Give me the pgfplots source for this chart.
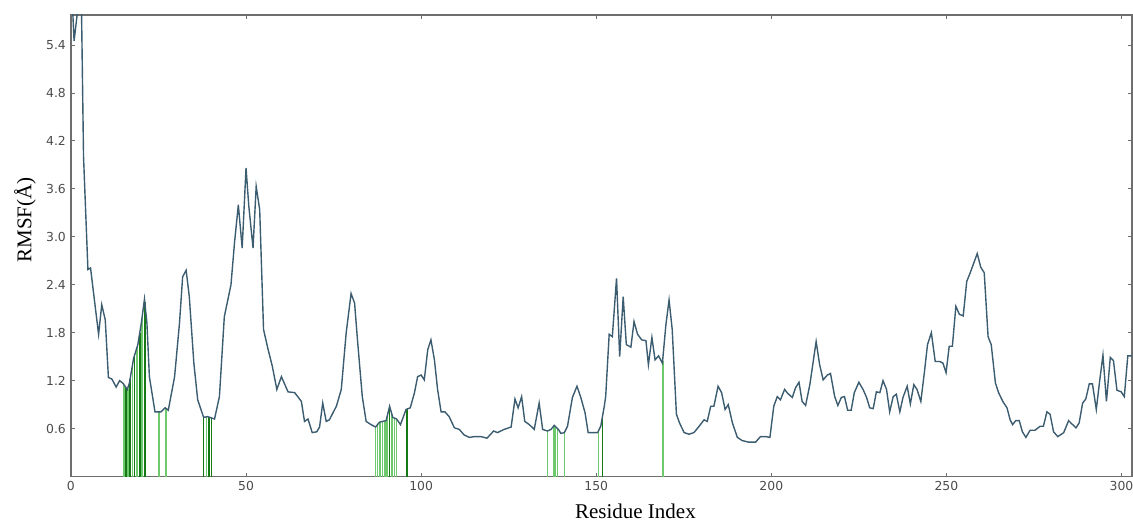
\documentclass[border=0pt]{standalone}
\usepackage{pgfplots}
\pgfplotsset{compat=1.18}
\usepackage{fontspec}
\setmainfont{Liberation Serif}
\newfontfamily\ticksf{DejaVu Sans}
\definecolor{rmsfline}{RGB}{60,92,112}
\definecolor{lgreen}{RGB}{110,200,110}
\definecolor{dgreen}{RGB}{20,120,20}
\definecolor{frame}{RGB}{110,110,110}
\begin{document}
\begin{tikzpicture}
\begin{axis}[
  scale only axis, width=531pt, height=231pt,
  xmin=0, xmax=303, ymin=0, ymax=5.775,
  xtick={0,50,100,150,200,250,300},
  ytick={0.6,1.2,1.8,2.4,3.0,3.6,4.2,4.8,5.4},
  yticklabel style={/pgf/number format/fixed, /pgf/number format/fixed zerofill, /pgf/number format/precision=1},
  /pgf/number format/assume math mode=true,
  tick align=inside, major tick length=2pt,
  tick style={frame, line width=0.4pt},
  axis line style={frame, line width=0.6pt},
  ticklabel style={font=\ticksf\fontsize{6.2}{7}\selectfont, text=black!70},
  xticklabel style={yshift=1pt},
  yticklabel style={xshift=1pt},
  xlabel={Residue Index}, ylabel={RMSF(Å)},
  label style={font=\fontsize{10.5}{12}\selectfont},
  xlabel style={at={(axis description cs:0.532,0)}, anchor=north, yshift=-10pt},
  ylabel style={at={(axis description cs:0,0.556)}, anchor=south, yshift=14pt},
  clip=true,
]
\addplot[lgreen, line width=0.75pt, ycomb, no marks] coordinates {
(15.2,1.14) (16.3,1.10) (17.6,1.40) (18.9,1.62) (20.3,1.98)
(25.2,0.81) (27.1,0.85) (38.7,0.75)
(87.0,0.62) (87.6,0.65) (88.3,0.68) (89.0,0.69) (89.7,0.70) (90.3,0.75) (91.7,0.78) (92.4,0.73) (93.0,0.72)
(136.1,0.57) (137.8,0.62) (138.2,0.63) (138.9,0.60) (141.0,0.56)
(150.6,0.56) (169.1,1.45)
};
\addplot[dgreen, line width=0.75pt, ycomb, no marks] coordinates {
(15.7,1.11) (16.9,1.22) (18.2,1.52) (19.7,1.80) (21.1,2.18)
(37.9,0.74) (39.4,0.74) (40.1,0.73)
(90.9,0.86) (96.0,0.84) (151.8,0.75)
};
\addplot[rmsfline, line width=0.7pt, no marks] coordinates {
(0,6.3) (0.9,5.45) (2.1,5.9) (3.0,5.9) (3.6,4.0) (4.85,2.59) (5.6,2.61) (6.7,2.21)
(7.9,1.78) (8.8,2.15) (9.8,1.96) (10.7,1.24) (11.7,1.22) (12.9,1.12) (13.9,1.2)
(14.8,1.17) (16.1,1.09) (16.7,1.17) (17.9,1.48) (19.1,1.65) (20.1,1.92) (21.0,2.22)
(21.7,1.92) (22.4,1.25) (24.0,0.81) (25.7,0.81) (26.9,0.86) (27.8,0.83) (29.6,1.25)
(31.0,1.92) (31.9,2.5) (32.9,2.58) (33.8,2.25) (35.1,1.42) (36.2,0.96) (37.9,0.74)
(39.0,0.75) (41.0,0.72) (42.4,1.0) (43.8,2.0) (45.7,2.4) (46.7,2.92) (47.8,3.4)
(48.9,2.86) (50.0,3.86) (50.8,3.38) (52.0,2.86) (52.9,3.63) (53.9,3.34) (55.0,1.84)
(56.3,1.59) (57.5,1.38) (58.8,1.09) (60.1,1.25) (62.0,1.06) (63.9,1.05) (65.8,0.94)
(66.7,0.69) (67.7,0.72) (68.9,0.55) (70.2,0.56) (71.0,0.62) (71.9,0.92) (72.9,0.69)
(73.8,0.71) (75.8,0.88) (77.2,1.09) (78.6,1.8) (80.0,2.29) (81.0,2.17) (81.9,1.67)
(83.2,1.0) (84.3,0.69) (85.7,0.65) (87.0,0.62) (88.1,0.68) (89.0,0.69) (90.0,0.70)
(91.0,0.88) (91.9,0.74) (93.0,0.72) (94.1,0.65) (95.7,0.84) (96.9,0.86) (98.1,1.05)
(99.0,1.25) (100.0,1.27) (100.9,1.21) (101.9,1.59) (102.8,1.71) (103.8,1.46) (104.7,1.09)
(105.7,0.81) (106.8,0.81) (108.0,0.75) (109.5,0.61) (110.9,0.59) (112.3,0.52) (113.8,0.49)
(115.2,0.50) (117.1,0.50) (118.8,0.48) (120.7,0.57) (121.8,0.55) (123.7,0.59) (125.7,0.62)
(126.8,0.97) (127.7,0.86) (128.7,1.00) (129.6,0.69) (130.9,0.65) (132.3,0.59) (133.7,0.92)
(134.7,0.59) (136.1,0.57) (137.1,0.59) (138.0,0.64) (139.2,0.59) (139.9,0.54) (140.9,0.55)
(141.8,0.63) (143.2,0.99) (144.5,1.13) (145.6,0.99) (146.8,0.80) (147.7,0.55) (149.4,0.55)
(150.4,0.55) (151.3,0.63) (152.3,0.88) (152.7,1.00) (153.7,1.78) (154.6,1.75) (155.8,2.48)
(156.7,1.50) (157.7,2.25) (158.6,1.65) (159.9,1.62) (160.8,1.94) (161.8,1.78) (163.0,1.71)
(164.2,1.70) (164.9,1.40) (165.9,1.74) (166.8,1.46) (167.8,1.51) (168.9,1.42) (169.9,1.90)
(170.8,2.21) (171.7,1.84) (172.9,0.78) (173.8,0.67) (175.1,0.55) (176.5,0.53) (177.9,0.55)
(179.4,0.63) (180.8,0.71) (181.7,0.69) (182.7,0.88) (183.6,0.88) (184.8,1.13) (185.8,1.05)
(186.8,0.84) (187.7,0.90) (188.9,0.67) (190.3,0.49) (191.7,0.45) (193.6,0.43) (195.5,0.43)
(196.9,0.50) (198.4,0.50) (199.6,0.49) (200.7,0.88) (201.7,1.00) (202.6,0.96) (203.8,1.09)
(204.7,1.04) (206.0,0.99) (206.9,1.11) (207.9,1.18) (208.8,0.94) (209.8,0.89) (211.0,1.15)
(211.9,1.42) (212.8,1.69) (213.8,1.40) (214.8,1.21) (216.0,1.27) (216.9,1.29) (218.1,1.00)
(219.0,0.89) (220.0,0.99) (220.9,1.00) (221.8,0.83) (222.8,0.83) (223.7,1.05) (225.0,1.18)
(226.2,1.09) (227.2,0.99) (228.1,0.86) (229.1,0.85) (230.0,1.06) (231.0,1.05) (231.9,1.20)
(232.9,1.09) (233.8,0.81) (234.8,1.00) (235.7,1.03) (236.7,0.81) (237.6,0.99) (238.8,1.13)
(239.7,0.91) (240.7,1.15) (241.6,1.09) (242.7,0.94) (243.7,1.30) (244.6,1.65) (245.7,1.80)
(246.8,1.44) (248.1,1.44) (249.0,1.42) (249.9,1.30) (250.8,1.63) (251.7,1.63) (252.7,2.13)
(253.7,2.03) (254.8,2.01) (255.8,2.44) (256.8,2.55) (257.8,2.67) (258.8,2.79) (259.8,2.62)
(260.8,2.55) (261.9,1.75) (262.8,1.65) (264.0,1.17) (264.9,1.05) (266.1,0.94) (267.3,0.86)
(268.2,0.71) (268.9,0.65) (269.8,0.70) (270.8,0.70) (271.7,0.56) (272.7,0.49) (273.9,0.58)
(275.3,0.58) (276.8,0.63) (277.7,0.63) (278.7,0.81) (279.6,0.78) (280.6,0.56) (281.8,0.50)
(283.5,0.55) (284.9,0.70) (285.8,0.66) (287.0,0.61) (287.9,0.67) (288.9,0.92) (289.8,0.97)
(290.8,1.16) (291.7,1.16) (292.8,0.84) (293.8,1.21) (294.7,1.52) (295.7,0.94) (296.8,1.49)
(297.7,1.45) (298.7,1.08) (299.9,1.06) (300.8,1.00) (301.8,1.51) (303.0,1.51)
};
\end{axis}
\pgfresetboundingbox
\path[use as bounding box] (current axis.south west) ++(-35.5pt,-22pt) rectangle ([shift={(0.5pt,7.5pt)}]current axis.north east);
\end{tikzpicture}
\end{document}
